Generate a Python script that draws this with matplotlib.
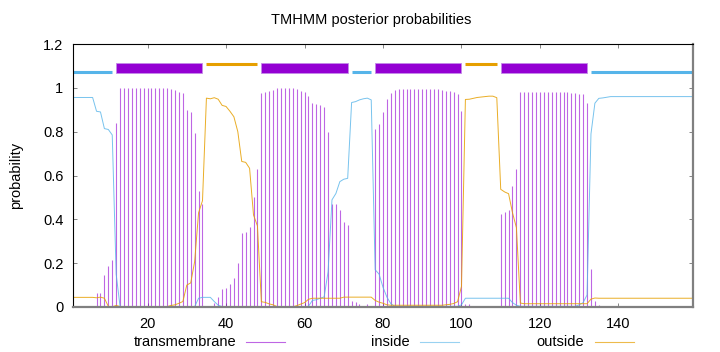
import numpy as np
import matplotlib.pyplot as plt
from matplotlib.lines import Line2D
from matplotlib.ticker import FuncFormatter

plt.rcParams['font.family'] = ['Liberation Sans', 'DejaVu Sans']
plt.rcParams['font.size'] = 10.5

# posterior probabilities per residue (1..159)
pos = np.arange(1, 160)

tm = [
    0.003, 0.003, 0.003, 0.003, 0.003, 0.003, 0.065, 0.065, 0.146, 0.187,
    0.215, 0.840, 0.999, 1.000, 1.000, 1.000, 1.000, 1.000, 1.000, 1.000,
    1.000, 1.000, 1.000, 1.000, 0.997, 0.993, 0.990, 0.983, 0.975, 0.900,
    0.890, 0.793, 0.530, 0.470, 0.003, 0.006, 0.020, 0.044, 0.080, 0.085,
    0.107, 0.132, 0.200, 0.336, 0.340, 0.367, 0.500, 0.629, 0.976, 0.979,
    0.986, 0.990, 0.998, 1.000, 1.000, 1.000, 0.998, 0.994, 0.985, 0.979,
    0.963, 0.930, 0.927, 0.920, 0.914, 0.800, 0.470, 0.469, 0.443, 0.390,
    0.375, 0.029, 0.024, 0.013, 0.004, 0.013, 0.005, 0.810, 0.835, 0.890,
    0.948, 0.976, 0.990, 0.994, 0.994, 0.994, 0.994, 0.994, 0.994, 0.994,
    0.994, 0.994, 0.994, 0.994, 0.990, 0.987, 0.985, 0.982, 0.973, 0.896,
    0.013, 0.012, 0.004, 0.004, 0.001, 0.001, 0.001, 0.001, 0.005, 0.423,
    0.435, 0.443, 0.550, 0.630, 0.979, 0.981, 0.981, 0.981, 0.981, 0.981,
    0.981, 0.981, 0.981, 0.981, 0.981, 0.981, 0.980, 0.976, 0.976, 0.973,
    0.970, 0.930, 0.174, 0.029, 0.008, 0.006, 0.005, 0.000, 0.000, 0.000,
    0.000, 0.000, 0.000, 0.000, 0.000, 0.000, 0.000, 0.000, 0.000, 0.000,
    0.000, 0.000, 0.000, 0.000, 0.000, 0.000, 0.000, 0.000, 0.000,
]

inside = [
    0.956, 0.956, 0.956, 0.956, 0.956, 0.956, 0.893, 0.890, 0.814, 0.810,
    0.785, 0.150, 0.001, 0.001, 0.001, 0.001, 0.001, 0.001, 0.001, 0.001,
    0.001, 0.001, 0.001, 0.001, 0.001, 0.001, 0.001, 0.001, 0.001, 0.001,
    0.001, 0.001, 0.040, 0.044, 0.044, 0.044, 0.025, 0.008, 0.002, 0.002,
    0.002, 0.002, 0.002, 0.002, 0.002, 0.002, 0.002, 0.002, 0.002, 0.002,
    0.002, 0.002, 0.002, 0.002, 0.002, 0.002, 0.002, 0.002, 0.002, 0.002,
    0.003, 0.030, 0.033, 0.040, 0.046, 0.160, 0.489, 0.518, 0.572, 0.583,
    0.587, 0.933, 0.937, 0.945, 0.950, 0.953, 0.945, 0.170, 0.150, 0.090,
    0.045, 0.015, 0.003, 0.003, 0.003, 0.003, 0.003, 0.003, 0.003, 0.003,
    0.003, 0.003, 0.003, 0.003, 0.003, 0.003, 0.003, 0.003, 0.003, 0.010,
    0.040, 0.040, 0.040, 0.040, 0.040, 0.040, 0.040, 0.040, 0.040, 0.040,
    0.040, 0.040, 0.020, 0.008, 0.003, 0.003, 0.003, 0.003, 0.003, 0.003,
    0.003, 0.003, 0.003, 0.003, 0.003, 0.003, 0.003, 0.003, 0.003, 0.010,
    0.020, 0.055, 0.790, 0.930, 0.952, 0.954, 0.957, 0.960, 0.960, 0.960,
    0.960, 0.960, 0.960, 0.960, 0.960, 0.960, 0.960, 0.960, 0.960, 0.960,
    0.960, 0.960, 0.960, 0.960, 0.960, 0.960, 0.960, 0.960, 0.960,
]

outside = [
    0.044, 0.044, 0.044, 0.044, 0.044, 0.044, 0.042, 0.045, 0.040, 0.003,
    0.001, 0.007, 0.002, 0.002, 0.002, 0.002, 0.002, 0.002, 0.002, 0.002,
    0.002, 0.002, 0.002, 0.002, 0.002, 0.007, 0.010, 0.017, 0.025, 0.100,
    0.110, 0.207, 0.430, 0.485, 0.953, 0.950, 0.955, 0.948, 0.920, 0.915,
    0.893, 0.868, 0.800, 0.664, 0.660, 0.633, 0.420, 0.370, 0.024, 0.021,
    0.014, 0.010, 0.002, 0.001, 0.001, 0.001, 0.001, 0.006, 0.013, 0.020,
    0.035, 0.040, 0.040, 0.040, 0.040, 0.040, 0.040, 0.040, 0.040, 0.045,
    0.045, 0.045, 0.045, 0.045, 0.045, 0.045, 0.045, 0.030, 0.022, 0.017,
    0.010, 0.008, 0.008, 0.008, 0.008, 0.008, 0.008, 0.008, 0.008, 0.008,
    0.008, 0.008, 0.008, 0.008, 0.008, 0.010, 0.012, 0.016, 0.024, 0.094,
    0.947, 0.948, 0.952, 0.956, 0.958, 0.960, 0.962, 0.962, 0.955, 0.537,
    0.525, 0.517, 0.430, 0.362, 0.018, 0.015, 0.015, 0.015, 0.015, 0.015,
    0.015, 0.015, 0.015, 0.015, 0.015, 0.015, 0.015, 0.015, 0.015, 0.015,
    0.015, 0.015, 0.036, 0.041, 0.040, 0.040, 0.040, 0.040, 0.040, 0.040,
    0.040, 0.040, 0.040, 0.040, 0.040, 0.040, 0.040, 0.040, 0.040, 0.040,
    0.040, 0.040, 0.040, 0.040, 0.040, 0.040, 0.040, 0.040, 0.040,
]

# predicted topology
inside_start = [1, 72, 133]
inside_end = [11, 77, 159]
outside_start = [35, 101]
outside_end = [48, 109]
tm_start = [12, 49, 78, 110]
tm_end = [34, 71, 100, 132]

c_tm = '#9400d3'
c_in = '#56b4e9'
c_out = '#e69f00'

fig = plt.figure(figsize=(7.2, 3.52), dpi=100)
ax = fig.add_axes([73/720, 1 - 307/352, 620/720, 263/352])

ax.vlines(pos, 0, tm, colors=c_tm, lw=0.8, alpha=0.6)
ax.plot(pos, inside, color=c_in, lw=0.7, alpha=0.8)
ax.plot(pos, outside, color=c_out, lw=0.7, alpha=0.85)

# topology bar on top
ax.hlines([1.072] * len(inside_start), inside_start, inside_end,
          colors=c_in, lw=2.2, capstyle='butt')
ax.hlines([1.110] * len(outside_start), outside_start, outside_end,
          colors=c_out, lw=2.2, capstyle='butt')
tm_w = [e - s for s, e in zip(tm_start, tm_end)]
ax.bar(tm_start, 0.046, width=tm_w, bottom=1.067, align='edge',
       color=c_tm, edgecolor='#c48ae8', lw=0.6)

ax.set_xlim(1, 159)
ax.set_ylim(0, 1.2)
ax.set_xticks([20, 40, 60, 80, 100, 120, 140])
ax.set_yticks([0, 0.2, 0.4, 0.6, 0.8, 1.0, 1.2])
ax.yaxis.set_major_formatter(FuncFormatter(lambda v, p: '%g' % v))
ax.tick_params(direction='in', length=3, width=0.5, color='#555555',
               top=True, right=True, pad=7)
ax.tick_params(axis='x', pad=7)

for s in ['top', 'left']:
    ax.spines[s].set_color('black')
    ax.spines[s].set_linewidth(0.8)
for s in ['bottom', 'right']:
    ax.spines[s].set_color('#808080')
    ax.spines[s].set_linewidth(1.6)

fig.text(371/720, 1 - 20/352, 'TMHMM posterior probabilities',
         ha='center', va='center', fontsize=10.5)
ax.set_ylabel('probability', fontsize=10.5)
ax.yaxis.set_label_coords(-0.08, 0.5)

# key along the bottom, gnuplot style: text then sample line
ly = 1 - 342/352
key = [('transmembrane', c_tm, 0.6, 236, 246, 285),
       ('inside', c_in, 0.6, 410, 420, 459),
       ('outside', c_out, 0.7, 584, 595, 634)]
for label, col, a, tx, x0, x1 in key:
    fig.text(tx/720, ly, label, ha='right', va='center', fontsize=10.5)
    fig.add_artist(Line2D([x0/720, x1/720], [ly, ly], color=col, lw=0.8,
                          alpha=a, transform=fig.transFigure))

fig.savefig('out.png', dpi=100)
